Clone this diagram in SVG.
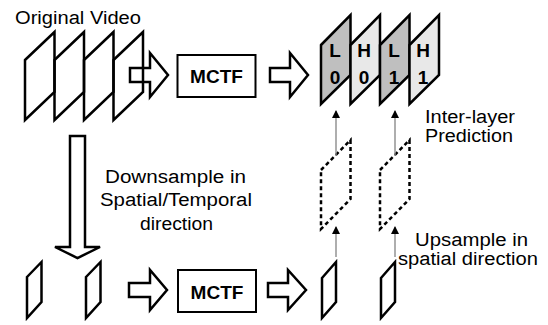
<svg xmlns="http://www.w3.org/2000/svg" width="548" height="325" viewBox="0 0 548 325">
<defs>
<style>
.t{font-family:"Liberation Sans",Arial,sans-serif;font-size:18px;fill:#000}
.b{font-family:"Liberation Sans",Arial,sans-serif;font-size:19px;font-weight:bold;fill:#000}
.fr{fill:none;stroke:#000;stroke-width:2.5;stroke-linejoin:miter}
.blk{fill:none;stroke:#000;stroke-width:2.5;stroke-linejoin:miter}
.box{fill:#fff;stroke:#000;stroke-width:2}
.dash{fill:none;stroke:#000;stroke-width:2.5;stroke-dasharray:4 3}
.Lf{fill:#bfbfbf;stroke:#000;stroke-width:2.5}
.Hf{fill:#e8e8e8;stroke:#000;stroke-width:2.5}
.thin{stroke:#8c8c8c;stroke-width:1.4;fill:none}
</style>
<marker id="ah" markerUnits="userSpaceOnUse" markerWidth="8" markerHeight="10" refX="7" refY="4" orient="auto">
<path d="M0,0 L8,4 L0,8 Z" fill="#000"/>
</marker>
</defs>
<rect width="548" height="325" fill="#fff"/>

<g id="original-video">
<text class="t" x="15" y="24" textLength="126" lengthAdjust="spacingAndGlyphs">Original Video</text>
<path class="fr" d="M25,60 L54.5,32 L54.5,92 L25,120 Z"/>
<path class="fr" d="M54.5,60 L84,32 L84,92 L54.5,120 Z"/>
<path class="fr" d="M84,60 L113.5,32 L113.5,92 L84,120 Z"/>
<path class="fr" d="M113.5,60 L143,32 L143,92 L113.5,120 Z"/>
</g>

<g id="mctf-top">
<rect class="box" x="177.5" y="55" width="78" height="42"/>
<text class="b" x="216.5" y="83" text-anchor="middle">MCTF</text>
</g>

<g id="output-frames">
<path class="Lf" d="M321,45 L350.5,15 L350.5,75 L321,104 Z"/>
<path class="Hf" d="M350.5,45 L380,15 L380,75 L350.5,104 Z"/>
<path class="Lf" d="M380,45 L409.5,15 L409.5,75 L380,104 Z"/>
<path class="Hf" d="M409.5,45 L439,15 L439,75 L409.5,104 Z"/>
<text class="b" x="335" y="57" text-anchor="middle">L</text>
<text class="b" x="335" y="84" text-anchor="middle">0</text>
<text class="b" x="364" y="57" text-anchor="middle">H</text>
<text class="b" x="364" y="84" text-anchor="middle">0</text>
<text class="b" x="394" y="57" text-anchor="middle">L</text>
<text class="b" x="394" y="84" text-anchor="middle">1</text>
<text class="b" x="423" y="57" text-anchor="middle">H</text>
<text class="b" x="423" y="84" text-anchor="middle">1</text>
</g>

<g id="inter-layer-label">
<text class="t" x="425" y="123" textLength="90" lengthAdjust="spacingAndGlyphs">Inter-layer</text>
<text class="t" x="425" y="142" textLength="88" lengthAdjust="spacingAndGlyphs">Prediction</text>
</g>

<g id="downsample-label">
<text class="t" x="105" y="183" textLength="141" lengthAdjust="spacingAndGlyphs">Downsample in</text>
<text class="t" x="100" y="206" textLength="152" lengthAdjust="spacingAndGlyphs">Spatial/Temporal</text>
<text class="t" x="140" y="230" textLength="73" lengthAdjust="spacingAndGlyphs">direction</text>
</g>

<g id="upsampled-frames">
<path class="dash" d="M321,170 L350.5,140 L350.5,199 L321,229 Z"/>
<path class="dash" d="M380,170 L409.5,140 L409.5,199 L380,229 Z"/>
</g>

<g id="upsample-label">
<text class="t" x="415" y="246" textLength="113" lengthAdjust="spacingAndGlyphs">Upsample in</text>
<text class="t" x="398" y="265" textLength="140" lengthAdjust="spacingAndGlyphs">spatial direction</text>
</g>

<g id="low-video">
<path class="fr" d="M27,277 L41.5,262 L41.5,302 L27,318 Z"/>
<path class="fr" d="M86,277 L100.5,262 L100.5,302 L86,318 Z"/>
</g>

<g id="mctf-bottom">
<rect class="box" x="178" y="270" width="78" height="42"/>
<text class="b" x="217" y="299" text-anchor="middle">MCTF</text>
</g>

<g id="low-output">
<path class="fr" d="M322,278 L336,262 L336,302 L322,318 Z"/>
<path class="fr" d="M381,278 L395,262 L395,302 L381,318 Z"/>
</g>

<g id="connectors">
<path class="blk" d="M130,68 H150 V53 L168,75 L150,97 V82 H130 Z"/>
<path class="blk" d="M270,68 H290 V53 L308,75 L290,97 V82 H270 Z"/>
<path class="blk" d="M129,283 H150 V270 L167,290 L150,310 V297 H129 Z"/>
<path class="blk" d="M268,283 H288 V270 L306,290 L288,310 V297 H268 Z"/>
<path class="blk" d="M70,136 H85 V247 H100 L77.5,258 L55,247 H70 Z"/>
<line class="thin" x1="336" y1="156" x2="336" y2="111" marker-end="url(#ah)"/>
<line class="thin" x1="395" y1="156" x2="395" y2="111" marker-end="url(#ah)"/>
<line class="thin" x1="336" y1="257" x2="336" y2="227" marker-end="url(#ah)"/>
<line class="thin" x1="395" y1="257" x2="395" y2="227" marker-end="url(#ah)"/>
</g>
</svg>
